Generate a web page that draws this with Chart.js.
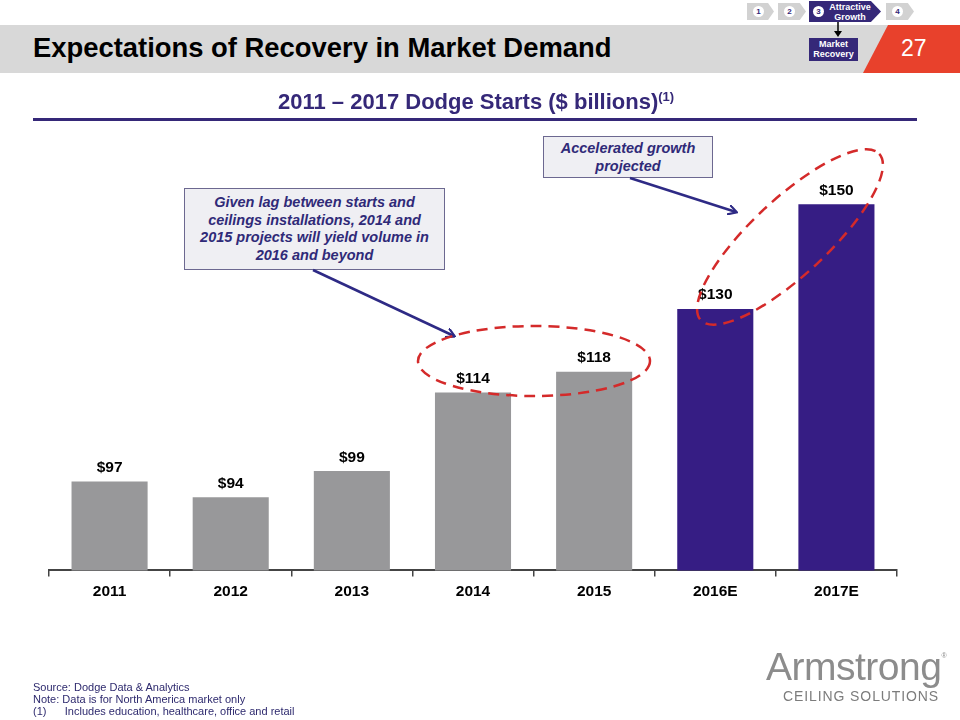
<!DOCTYPE html>
<html>
<head>
<meta charset="utf-8">
<script src="https://cdn.jsdelivr.net/npm/chart.js@4/dist/chart.umd.min.js"></script>
<style>
  body { margin: 0; background: #fff; font-family: Arial, "Liberation Sans", sans-serif; }
  #page { position: relative; width: 960px; height: 720px; overflow: hidden; }
  #chart { position: absolute; left: 0; top: 0; }
  .abs { position: absolute; }
  #band { left: 0; top: 25px; width: 960px; height: 48px; background: #d8d8d8; }
  #title { left: 33px; top: 32px; font-size: 27.4px; font-weight: bold; color: #000; white-space: nowrap; }
  #pageno { right: 0; top: 25px; width: 97px; height: 48px; background: #e8412c;
    clip-path: polygon(25px 0, 97px 0, 97px 48px, 0 48px); }
  #pageno span { position: absolute; left: 38px; top: 10px; color: #fff; font-size: 23px; }
  #subtitle { left: 278px; top: 89px; font-size: 22px; font-weight: bold; color: #352878; white-space: nowrap; }
  #subtitle sup { font-size: 13px; }
  #rule { left: 33px; top: 118px; width: 884px; height: 3px; background: #352878; }
  .chev { height: 17px; top: 3px; background: #d2d2d2; clip-path: polygon(0 0, 78% 0, 100% 50%, 78% 100%, 0 100%); }
  .num { position: absolute; left: 6px; top: 3px; width: 11px; height: 11px; border-radius: 50%; background: #fff; font-size: 8px; font-weight: bold; color: #352878; text-align: center; line-height: 11px; }
  #chev3 { left: 809px; top: 1px; width: 72px; height: 21px; background: #352878; clip-path: polygon(0 0, 86% 0, 100% 50%, 86% 100%, 0 100%); }
  #chev3 .num { left: 4px; top: 5px; }
  #chev3 .lbl { position: absolute; left: 18px; top: 1px; width: 46px; text-align: center; color: #fff; font-size: 9px; font-weight: bold; line-height: 10px; }
  #mkt { left: 809px; top: 38px; width: 49px; height: 23px; background: #352878; color: #fff; font-size: 9px; font-weight: bold; text-align: center; line-height: 10px; padding-top: 1px; box-sizing: border-box; }
  .note { left: 33px; width: 860px; font-size: 11px; color: #2e2a6e; white-space: nowrap; }
  #logo1 { left: 766px; top: 645px; font-size: 39px; color: #8c8c8c; letter-spacing: -0.5px; white-space: nowrap; }
  #logo1 sup { font-size: 7px; vertical-align: 22px; }
  #logo2 { left: 783px; top: 688px; font-size: 14px; color: #7c7c7c; letter-spacing: 0.9px; white-space: nowrap; }
  .box { background: #efeff3; border: 1px solid #6c6890; color: #2f2a78; font-weight: bold; font-style: italic;
    text-align: center; font-size: 14.5px; line-height: 17.5px; box-sizing: border-box; }
  #overlay { position: absolute; left: 0; top: 0; }
</style>
</head>
<body>
<div id="page">
  <canvas id="chart" width="960" height="720"></canvas>

  <div id="band" class="abs"></div>
  <div id="title" class="abs">Expectations of Recovery in Market Demand</div>
  <div id="pageno" class="abs"><span>27</span></div>

  <div class="abs chev" style="left:747px;width:27px"><div class="num">1</div></div>
  <div class="abs chev" style="left:778px;width:28px"><div class="num">2</div></div>
  <div id="chev3" class="abs"><div class="num">3</div><div class="lbl">Attractive Growth</div></div>
  <div class="abs chev" style="left:886px;width:28px"><div class="num">4</div></div>
  <div id="mkt" class="abs">Market<br>Recovery</div>

  <div id="subtitle" class="abs">2011 – 2017 Dodge Starts ($ billions)<sup>(1)</sup></div>
  <div id="rule" class="abs"></div>

  <div class="abs box" style="left:184px;top:188px;width:261px;height:82px;padding-top:5px">Given lag between starts and<br>ceilings installations, 2014 and<br>2015 projects will yield volume in<br>2016 and beyond</div>
  <div class="abs box" style="left:543px;top:136px;width:170px;height:42px;padding-top:3px">Accelerated growth<br>projected</div>

  <svg id="overlay" width="960" height="720">
    <defs>
      <marker id="ah" markerWidth="10" markerHeight="10" refX="8" refY="5" orient="auto" markerUnits="userSpaceOnUse">
        <path d="M0,0 L9,5 L0,10" fill="none" stroke="#2e2a85" stroke-width="2.2"/>
      </marker>
    </defs>
    <line x1="313" y1="270" x2="454" y2="336" stroke="#2e2a85" stroke-width="2.5" marker-end="url(#ah)"/>
    <line x1="630" y1="178" x2="736" y2="212" stroke="#2e2a85" stroke-width="2.5" marker-end="url(#ah)"/>
    <ellipse cx="534" cy="361" rx="116" ry="35" fill="none" stroke="#d42a2a" stroke-width="2.5" stroke-dasharray="11 7"/>
    <ellipse cx="790" cy="237" rx="122" ry="38" transform="rotate(-43 790 237)" fill="none" stroke="#d42a2a" stroke-width="2.5" stroke-dasharray="11 7"/>
    <line x1="838" y1="22" x2="838" y2="34" stroke="#000" stroke-width="1.5"/>
    <path d="M834,31 L838,37 L842,31 Z" fill="#000"/>
  </svg>

  <div class="abs note" style="top:681px">Source: Dodge Data &amp; Analytics</div>
  <div class="abs note" style="top:693px">Note: Data is for North America market only</div>
  <div class="abs note" style="top:705px">(1)&nbsp;&nbsp;&nbsp;&nbsp;&nbsp;&nbsp;Includes education, healthcare, office and retail</div>

  <div id="logo1" class="abs">Armstrong<sup>®</sup></div>
  <div id="logo2" class="abs">CEILING SOLUTIONS</div>
</div>

<script>
const years = ['2011', '2012', '2013', '2014', '2015', '2016E', '2017E'];
const starts = [97, 94, 99, 114, 118, 130, 150];
const barColors = ['#98989a', '#98989a', '#98989a', '#98989a', '#98989a', '#361d84', '#361d84'];

const valueLabels = {
  id: 'valueLabels',
  afterDatasetsDraw(chart) {
    const ctx = chart.ctx;
    const meta = chart.getDatasetMeta(0);
    ctx.save();
    ctx.font = 'bold 15.5px Arial, "Liberation Sans", sans-serif';
    ctx.fillStyle = '#000';
    ctx.textAlign = 'center';
    ctx.textBaseline = 'bottom';
    meta.data.forEach((bar, i) => {
      ctx.fillText('$' + starts[i], bar.x, bar.y - 6);
    });
    ctx.restore();
  }
};

new Chart(document.getElementById('chart').getContext('2d'), {
  type: 'bar',
  data: {
    labels: years,
    datasets: [{
      data: starts,
      backgroundColor: barColors,
      borderWidth: 0,
      categoryPercentage: 1,
      barPercentage: 0.628
    }]
  },
  options: {
    responsive: false,
    animation: false,
    layout: { padding: { left: 49, right: 63, top: 152, bottom: 113 } },
    plugins: { legend: { display: false }, tooltip: { enabled: false } },
    scales: {
      x: {
        grid: { drawOnChartArea: false, drawTicks: true, tickLength: 6, color: '#444', lineWidth: 1.5 },
        border: { display: true, color: '#444', width: 2 },
        ticks: { color: '#000', padding: 6, font: { size: 15.5, weight: 'bold', family: 'Arial, "Liberation Sans", sans-serif' } }
      },
      y: { display: false, min: 80, max: 160 }
    }
  },
  plugins: [valueLabels]
});
</script>
</body>
</html>
